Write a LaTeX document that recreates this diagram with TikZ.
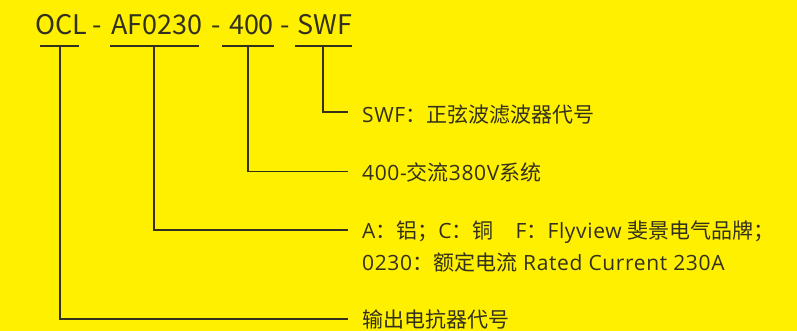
\documentclass[tikz,border=0pt]{standalone}
\usepackage{fontspec}
\setmainfont{Open Sans}[LetterSpace=3]
\newfontfamily\cjk{Noto Sans CJK SC}
\definecolor{bgyellow}{RGB}{255,240,0}
\definecolor{inkdark}{RGB}{51,48,30}
\begin{document}
\begin{tikzpicture}[x=1pt,y=-1pt,
  toptext/.style={font=\cjk\fontsize{27}{30}\selectfont, text=inkdark, inner sep=0pt, anchor=base},
  labtext/.style={font=\fontsize{21}{23}\selectfont, text=inkdark, inner sep=0pt, anchor=base west},
  bar/.style={draw=inkdark, line width=1.6pt},
  conn/.style={draw=inkdark, line width=1.6pt}]
\fill[bgyellow] (0,0) rectangle (797,331);
\useasboundingbox (0,0) rectangle (797,331);
% top code
\node[toptext] (ocl) at (61,35) {OCL};
\node[toptext] (d1) at (97,35) {-};
\node[toptext] (af) at (157,35) {AF0230};
\node[toptext] (d2) at (216,35) {-};
\node[toptext] (v400) at (251.5,35) {400};
\node[toptext] (d3) at (285,35) {-};
\node[toptext] (swf) at (325,35) {SWF};
% underline bars
\draw[bar] (40,46) -- (79,46);
\draw[bar] (110,46) -- (199,46);
\draw[bar] (222,46) -- (274,46);
\draw[bar] (295,46) -- (352,46);
\coordinate (t1) at (60,46);
\coordinate (t2) at (154,46);
\coordinate (t3) at (248,46);
\coordinate (t4) at (323,46);
% labels
\node[labtext] (l4) at (362,122.7) {SWF{\cjk ：正弦波滤波器代号}};
\node[labtext] (l3) at (362,180) {400-{\cjk 交流}380V{\cjk 系统}};
\node[labtext] (l2) at (362,238) {A{\cjk ：铝；}C{\cjk ：铜}\hspace{22pt}F{\cjk ：}Flyview {\cjk 斐景电气品牌；}};
\node[labtext] (l2b) at (362,270) {0230{\cjk ：额定电流} Rated Current 230A};
\node[labtext] (l1) at (362,327) {\cjk 输出电抗器代号};
% connector ends
\coordinate (e4) at ([xshift=-14pt,yshift=10.4pt]l4.base west);
\coordinate (e3) at ([xshift=-14pt,yshift=8.3pt]l3.base west);
\coordinate (e2) at ([xshift=-14pt,yshift=8pt]l2.base west);
\coordinate (e1) at ([xshift=-14pt,yshift=8pt]l1.base west);
% connectors
\draw[conn] (t4) |- (e4);
\draw[conn] (t3) |- (e3);
\draw[conn] (t2) |- (e2);
\draw[conn] (t1) |- (e1);
\end{tikzpicture}
\end{document}
